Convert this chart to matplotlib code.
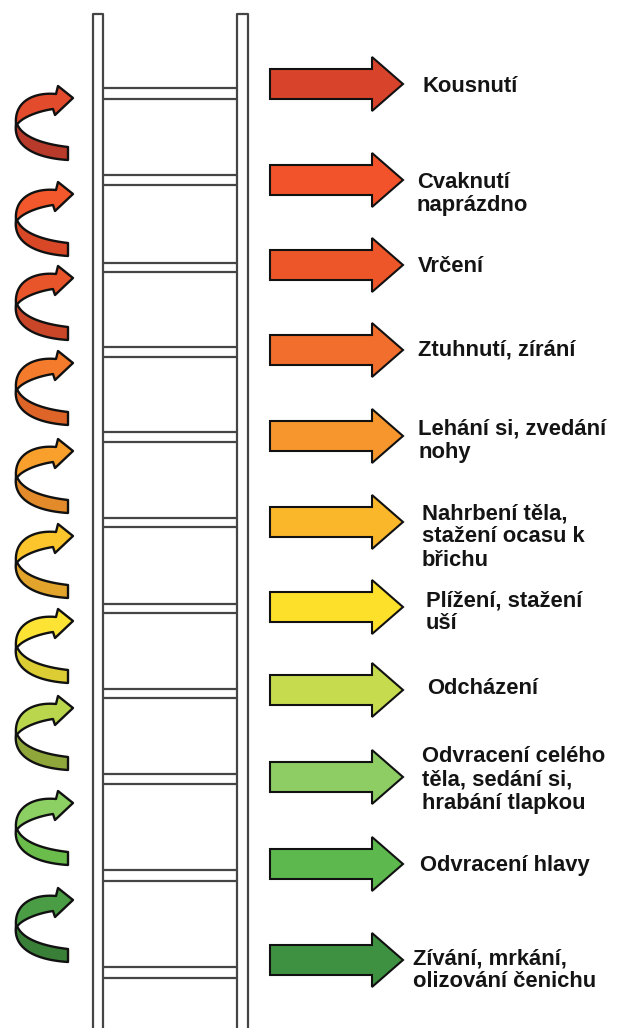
import numpy as np
import matplotlib
matplotlib.use("Agg")
import matplotlib.pyplot as plt
from matplotlib.patches import Polygon

# ladder steps, top (most aggressive) to bottom
LABELS = [
    ["Kousnutí"],
    ["Cvaknutí", "naprázdno"],
    ["Vrčení"],
    ["Ztuhnutí, zírání"],
    ["Lehání si, zvedání", "nohy"],
    ["Nahrbení těla,", "stažení ocasu k", "břichu"],
    ["Plížení, stažení", "uší"],
    ["Odcházení"],
    ["Odvracení celého", "těla, sedání si,", "hrabání tlapkou"],
    ["Odvracení hlavy"],
    ["Zívání, mrkání,", "olizování čenichu"],
]
ARROW_COLORS = ["#d8442b", "#f2532a", "#ec5629", "#f26e2c", "#f7962d", "#fbb72a",
                "#fde02a", "#c6dc4e", "#8dcd64", "#5db94e", "#3f9142"]

CURL_LIGHT = ["#e24b2c", "#f2582b", "#e9552b", "#f47b2b", "#f9a02c", "#fcc52c",
              "#fde333", "#b9d64c", "#8ccf62", "#4b9d45"]
CURL_DARK = ["#b83a2a", "#d84726", "#c94629", "#de6428", "#e38b2b", "#e2a42b",
             "#dccd34", "#8fa63a", "#6bbd4b", "#3a7f38"]

# layout (pixels, y down)
ARROW_Y = [84, 180, 265, 350, 436, 522, 607, 690, 777, 864, 960]
TEXT_X = [423, 417, 418, 418, 418, 422, 426, 427, 422, 420, 413]
TEXT_Y = [84, 192, 265, 348, 439, 535, 610, 687, 778, 863, 968]
RUNG_Y = [(88, 99), (175, 185), (263, 272), (347, 357), (432, 442), (518, 527),
          (604, 613), (689, 698), (774, 784), (870, 881), (967, 978)]
CURL_Y = [97, 193, 277, 362, 450, 535, 620, 707, 802, 899]
LINE_GAP = 23


def bez(p0, p1, p2, p3, n=30):
    t = np.linspace(0, 1, n)[:, None]
    p0, p1, p2, p3 = map(np.array, (p0, p1, p2, p3))
    return (1 - t) ** 3 * p0 + 3 * (1 - t) ** 2 * t * p1 + 3 * (1 - t) * t ** 2 * p2 + t ** 3 * p3


def draw_curl(ax, y0, light, dark):
    # back (lower) half of the twisted ribbon
    outer = bez((16, 27), (13, 50), (36, 61), (68, 63))
    inner = bez((68, 50), (42, 47), (24, 40), (18, 29))
    pts = np.vstack([outer, inner]) + [0, y0]
    ax.add_patch(Polygon(pts, closed=True, fc=dark, ec="#111111", lw=1.7, joinstyle="round"))
    # front (upper) half with arrow head
    outer = bez((56, -3), (36, -5), (14, 3), (16, 27))
    inner = bez((17, 28), (19, 23), (33, 15), (53, 12))
    head = np.array([(53, 12), (55, 18), (73, 1), (58, -11), (56, -3)])
    pts = np.vstack([outer, inner, head]) + [0, y0]
    ax.add_patch(Polygon(pts, closed=True, fc=light, ec="#111111", lw=1.7, joinstyle="round"))


def draw_arrow(ax, yc, color):
    x0, x1, tip = 270, 372, 403
    bh, hh = 15, 27
    pts = [(x0, yc - bh), (x1, yc - bh), (x1, yc - hh), (tip, yc), (x1, yc + hh),
           (x1, yc + bh), (x0, yc + bh)]
    ax.add_patch(Polygon(pts, closed=True, fc=color, ec="#111111", lw=1.5, joinstyle="miter"))


fig = plt.figure(figsize=(6.17, 10.28), dpi=100)
ax = fig.add_axes([0, 0, 1, 1])
ax.set_xlim(0, 617)
ax.set_ylim(1028, 0)
ax.axis("off")

# ladder rails
rail_kw = dict(color="#454545", lw=1.6, solid_capstyle="butt")
for xl, xr in [(93, 103), (237, 248)]:
    ax.plot([xl, xl, xr, xr], [1030, 14, 14, 1030], **rail_kw)
for ya, yb in RUNG_Y:
    ax.plot([103, 237], [ya, ya], **rail_kw)
    ax.plot([103, 237], [yb, yb], **rail_kw)

for yc, light, dark in zip(CURL_Y, CURL_LIGHT, CURL_DARK):
    draw_curl(ax, yc, light, dark)

for yc, color in zip(ARROW_Y, ARROW_COLORS):
    draw_arrow(ax, yc, color)

for lines, tx, ty in zip(LABELS, TEXT_X, TEXT_Y):
    n = len(lines)
    for i, line in enumerate(lines):
        yl = ty + (i - (n - 1) / 2) * LINE_GAP
        ax.text(tx, yl + 7.5, line, ha="left", va="baseline", fontsize=15.8,
                fontweight="bold", family=["Liberation Sans", "DejaVu Sans"], color="#141414")

fig.savefig("out.png", dpi=100, facecolor="white")
